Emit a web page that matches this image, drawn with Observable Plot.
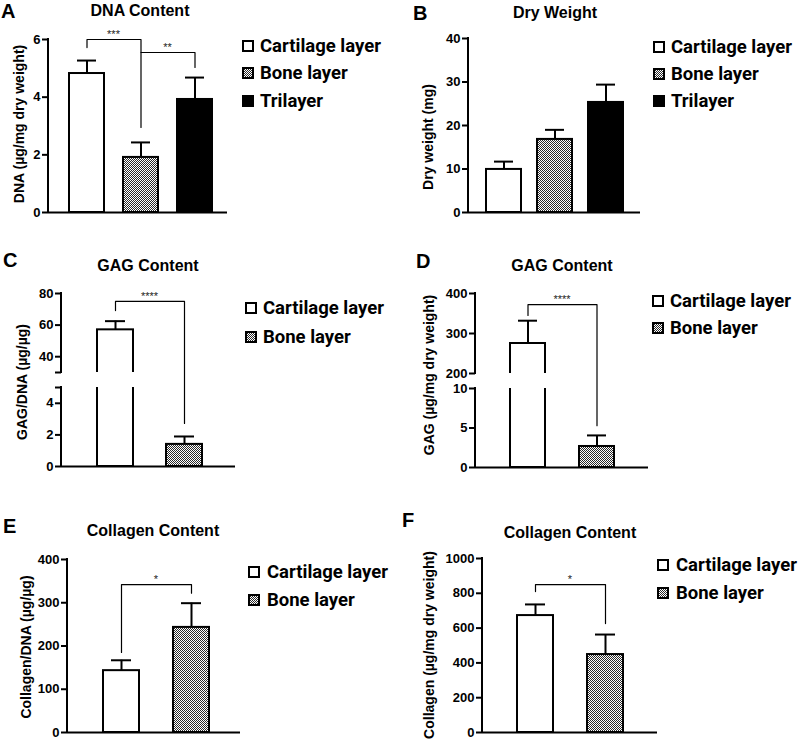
<!DOCTYPE html>
<html>
<head>
<meta charset="utf-8">
<script src="https://cdn.jsdelivr.net/npm/d3@7"></script>
<script src="https://cdn.jsdelivr.net/npm/@observablehq/plot@0.6"></script>
<style>
  body { margin: 0; background: #fff; }
  #fig { position: relative; width: 800px; height: 741px; overflow: hidden; font-family: "Liberation Sans", Arial, sans-serif; color: #000; background: #fff; }
  .abs { position: absolute; }
  .letter { font-weight: bold; font-size: 20px; line-height: 22px; }
  .title { font-weight: bold; font-size: 16px; line-height: 16px; white-space: nowrap; transform: translateX(-50%); }
  .ylab { font-weight: bold; font-size: 14px; line-height: 14px; white-space: nowrap; transform: translate(-50%, -50%) rotate(-90deg); }
  .lg-swatches { font-family: Roboto, "Liberation Sans", sans-serif; font-size: 18.5px; font-weight: 700; color: #000; margin: 0; }
  .lg-swatch { display: flex; align-items: center; height: var(--row); padding: 0; }
  .lg-swatch svg { margin-right: var(--gap); overflow: visible; flex-shrink: 0; }
  .lg-swatch rect { stroke: #000; stroke-width: 2px; }
  .lg-swatch-label { white-space: nowrap; overflow: visible; }
</style>
</head>
<body>
<svg width="0" height="0" style="position:absolute">
  <defs>
    <pattern id="checker" width="2" height="2" patternUnits="userSpaceOnUse">
      <rect width="2" height="2" fill="#ffffff"/>
      <rect x="0" y="0" width="1" height="1" fill="#2a2a2a"/>
      <rect x="1" y="1" width="1" height="1" fill="#2a2a2a"/>
    </pattern>
  </defs>
</svg>
<div id="fig"></div>
<script>
// ---------- data ----------
const groups3 = ["Cartilage layer", "Bone layer", "Trilayer"];
const groups2 = ["Cartilage layer", "Bone layer"];
const fills3 = ["white", "url(#checker)", "black"];
const fills2 = ["white", "url(#checker)"];

// A: DNA content (µg/mg dry weight)
const dnaMean = [4.82, 1.91, 3.92];
const dnaSD = [0.45, 0.52, 0.76];
const dnaTicks = [0, 2, 4, 6];
const dnaBrackets = [
  {from: "Cartilage layer", to: "Bone layer", top: 6.0, fromEnd: 5.72, toEnd: 2.95, label: "***"},
  {from: "Bone layer", to: "Trilayer", top: 5.55, fromEnd: 5.55, toEnd: 5.03, label: "**"}
];

// B: Dry weight (mg)
const dryMean = [9.9, 16.8, 25.3];
const drySD = [1.8, 2.2, 4.1];
const dryTicks = [0, 10, 20, 30, 40];

// C: GAG/DNA (µg/µg) — broken axis 5 → 30
const gagDnaMean = [57, 1.4];
const gagDnaSD = [5.5, 0.5];
const gagDnaTicks = [0, 2, 4, 5, 30, 40, 60, 80];
const gagDnaHidden = [5, 30];
const gagDnaBrackets = [
  {from: "Cartilage layer", to: "Bone layer", top: 75, fromEnd: 69.2, toEnd: 2.72, label: "****"}
];

// D: GAG (µg/mg dry weight) — broken axis 10 → 200
const gagDwMean = [275, 2.66];
const gagDwSD = [57, 1.4];
const gagDwTicks = [0, 5, 10, 200, 300, 400];
const gagDwBrackets = [
  {from: "Cartilage layer", to: "Bone layer", top: 372, fromEnd: 345, toEnd: 5.3, label: "****"}
];

// E: Collagen/DNA (µg/µg)
const colDnaMean = [143, 243];
const colDnaSD = [24, 56];
const colDnaTicks = [0, 100, 200, 300, 400];
const colDnaBrackets = [
  {from: "Cartilage layer", to: "Bone layer", top: 342, fromEnd: 185, toEnd: 322, label: "*"}
];

// F: Collagen (µg/mg dry weight)
const colDwMean = [672, 448];
const colDwSD = [64, 115];
const colDwTicks = [0, 200, 400, 600, 800, 1000];
const colDwBrackets = [
  {from: "Cartilage layer", to: "Bone layer", top: 850, fromEnd: 810, toEnd: 626, label: "*"}
];

// ---------- layout (page pixels) ----------
const panels = [
  {letter: "A", title: "DNA Content", ylabel: "DNA (µg/mg dry weight)",
   groups: groups3, fills: fills3, mean: dnaMean, sd: dnaSD, ticks: dnaTicks, hidden: [], brackets: dnaBrackets,
   axisX: 48, right: 227, yDomain: [0, 6], yPix: [212, 39], segments: [[0, 6]], pi: 0.36, po: 0.32, align: 0.57,
   letterPos: [1, 0], titlePos: [140, 3], ylabPos: [19, 124],
   legend: {x: 242, y: 32, row: 27.5, gap: 7}},
  {letter: "B", title: "Dry Weight", ylabel: "Dry weight (mg)",
   groups: groups3, fills: fills3, mean: dryMean, sd: drySD, ticks: dryTicks, hidden: [], brackets: [],
   axisX: 468, right: 640, yDomain: [0, 40], yPix: [212, 38], segments: [[0, 40]], pi: 0.32, po: 0.33, align: 0.5,
   letterPos: [413, 2], titlePos: [555, 5], ylabPos: [428, 137],
   legend: {x: 653, y: 33, row: 27, gap: 7}},
  {letter: "C", title: "GAG Content", ylabel: "GAG/DNA (µg/µg)",
   groups: groups2, fills: fills2, mean: gagDnaMean, sd: gagDnaSD, ticks: gagDnaTicks, hidden: gagDnaHidden, brackets: gagDnaBrackets,
   axisX: 61, right: 235, yDomain: [0, 5, 30, 80], yPix: [466, 387, 372, 293], segments: [[0, 5], [30, 80]], gap: [5, 30],
   pi: 0.48, po: 0.5, align: 0.52,
   letterPos: [3, 249], titlePos: [148, 258], ylabPos: [22, 382],
   legend: {x: 245, y: 293.5, row: 29, gap: 7}},
  {letter: "D", title: "GAG Content", ylabel: "GAG (µg/mg dry weight)",
   groups: groups2, fills: fills2, mean: gagDwMean, sd: gagDwSD, ticks: gagDwTicks, hidden: [], brackets: gagDwBrackets,
   axisX: 475, right: 648, yDomain: [0, 10, 200, 400], yPix: [467, 388, 373, 293], segments: [[0, 10], [200, 400]], gap: [10, 200],
   pi: 0.5, po: 0.486, align: 0.5,
   letterPos: [416, 250], titlePos: [562, 258], ylabPos: [429, 375],
   legend: {x: 652, y: 287.5, row: 27, gap: 7}},
  {letter: "E", title: "Collagen Content", ylabel: "Collagen/DNA (µg/µg)",
   groups: groups2, fills: fills2, mean: colDnaMean, sd: colDnaSD, ticks: colDnaTicks, hidden: [], brackets: colDnaBrackets,
   axisX: 67, right: 240, yDomain: [0, 400], yPix: [732, 559], segments: [[0, 400]], pi: 0.49, po: 0.465, align: 0.53,
   letterPos: [3, 515], titlePos: [153, 523], ylabPos: [26, 647],
   legend: {x: 248, y: 558, row: 28, gap: 8}},
  {letter: "F", title: "Collagen Content", ylabel: "Collagen (µg/mg dry weight)",
   groups: groups2, fills: fills2, mean: colDwMean, sd: colDwSD, ticks: colDwTicks, hidden: [], brackets: colDwBrackets,
   axisX: 482, right: 657, yDomain: [0, 1000], yPix: [732, 558], segments: [[0, 1000]], pi: 0.486, po: 0.49, align: 0.5,
   letterPos: [402, 509], titlePos: [570, 525], ylabPos: [429, 645],
   legend: {x: 657, y: 551, row: 28, gap: 8}}
];

const fig = document.getElementById("fig");

function addText(cls, text, x, y) {
  const d = document.createElement("div");
  d.className = "abs " + cls;
  d.textContent = text;
  d.style.left = x + "px";
  d.style.top = y + "px";
  fig.appendChild(d);
  return d;
}

// y-axis line drawn in segments (broken axes) on the plot's own y scale
function yAxisLine(segments, warp) {
  return (index, scales, values, dims) => {
    const y = scales.y;
    const g = d3.create("svg:g");
    for (const [a, b] of segments) {
      g.append("line")
        .attr("x1", dims.marginLeft).attr("x2", dims.marginLeft)
        .attr("y1", y(warp(a)) + 1).attr("y2", y(warp(b)) - 1)
        .attr("stroke", "black").attr("stroke-width", 2);
    }
    return g.node();
  };
}

// significance stars centred between the two compared bars
function starLabels(brackets, warp) {
  return (index, scales) => {
    const x = scales.x, y = scales.y;
    const bw = typeof x.bandwidth === "function" ? x.bandwidth() : 0;
    const g = d3.create("svg:g");
    for (const b of brackets) {
      g.append("text")
        .attr("x", (x(b.from) + x(b.to)) / 2 + bw / 2)
        .attr("y", y(warp(b.top)) - 1)
        .attr("text-anchor", "middle")
        .attr("font-family", "Liberation Sans, Arial, sans-serif")
        .attr("font-size", 11)
        .attr("fill", "#222")
        .text(b.label);
    }
    return g.node();
  };
}

for (const p of panels) {
  // piecewise-linear warp of the value axis (identity-like for unbroken axes)
  const warp = d3.scaleLinear().domain(p.yDomain).range(p.yPix.map(v => p.yPix[0] - v));
  const H = warp(p.yDomain[p.yDomain.length - 1]);

  const data = p.groups.map((g, i) => ({group: g, mean: p.mean[i], sd: p.sd[i]}));
  const bpts = p.brackets.flatMap((b, i) => [
    {id: i, g: b.from, v: b.fromEnd},
    {id: i, g: b.from, v: b.top},
    {id: i, g: b.to, v: b.top},
    {id: i, g: b.to, v: b.toEnd}
  ]);
  const tickLabel = new Map(p.ticks.map(t => [warp(t), p.hidden.includes(t) ? "" : String(t)]));

  const mL = 46, mR = 6, mB = 6, mT = 26;
  const yMinPix = Math.min(...p.yPix), yMaxPix = Math.max(...p.yPix);
  const top = yMinPix - mT;
  const left = p.axisX - mL;
  const width = p.right - left + mR;
  const height = yMaxPix - top + mB;

  const marks = [
    Plot.barY(data, {x: "group", y: d => warp(d.mean), fill: "group", stroke: "black", strokeWidth: 2}),
    Plot.ruleX(data, {x: "group", y1: d => warp(d.mean), y2: d => warp(d.mean + d.sd), stroke: "black", strokeWidth: 2}),
    Plot.tickY(data, {x: "group", y: d => warp(d.mean + d.sd), stroke: "black", strokeWidth: 2, insetLeft: 8, insetRight: 8})
  ];
  if (p.gap) {
    marks.push(Plot.rect([p.gap], {y1: d => warp(d[0]), y2: d => warp(d[1]), fill: "white"}));
  }
  marks.push(
    Plot.ruleY([0], {stroke: "black", strokeWidth: 2}),
    yAxisLine(p.segments, warp),
    Plot.axisY(p.ticks.map(warp), {
      tickSize: 6,
      tickPadding: 2,
      strokeWidth: 2,
      stroke: "black",
      fill: "black",
      fontSize: 13,
      fontWeight: "bold",
      tickFormat: u => tickLabel.get(u) ?? "",
      label: null
    })
  );
  if (p.brackets.length) {
    marks.push(
      Plot.line(bpts, {x: "g", y: d => warp(d.v), z: "id", stroke: "black", strokeWidth: 1.2}),
      starLabels(p.brackets, warp)
    );
  }

  const svg = Plot.plot({
    width, height,
    marginLeft: mL, marginRight: mR, marginTop: mT, marginBottom: mB,
    style: {fontFamily: "Liberation Sans, Arial, sans-serif", color: "black", background: "transparent", overflow: "visible"},
    x: {type: "band", domain: p.groups, paddingInner: p.pi, paddingOuter: p.po, align: p.align, axis: null},
    y: {domain: [0, H], axis: null},
    color: {domain: p.groups, range: p.fills},
    marks
  });
  svg.style.position = "absolute";
  svg.style.left = left + "px";
  svg.style.top = top + "px";
  svg.style.maxWidth = "none";
  fig.appendChild(svg);

  addText("letter", p.letter, p.letterPos[0], p.letterPos[1]);
  addText("title", p.title, p.titlePos[0], p.titlePos[1]);
  addText("ylab", p.ylabel, p.ylabPos[0], p.ylabPos[1]);

  const lg = Plot.legend({
    color: {domain: p.groups, range: p.fills},
    legend: "swatches",
    columns: 1,
    swatchSize: 10,
    className: "lg"
  });
  const wrap = document.createElement("div");
  wrap.className = "abs";
  wrap.style.left = (p.legend.x + 1) + "px";
  wrap.style.top = p.legend.y + "px";
  wrap.style.width = "160px";
  wrap.style.setProperty("--row", p.legend.row + "px");
  wrap.style.setProperty("--gap", p.legend.gap + "px");
  wrap.appendChild(lg);
  fig.appendChild(wrap);
}
</script>
</body>
</html>
